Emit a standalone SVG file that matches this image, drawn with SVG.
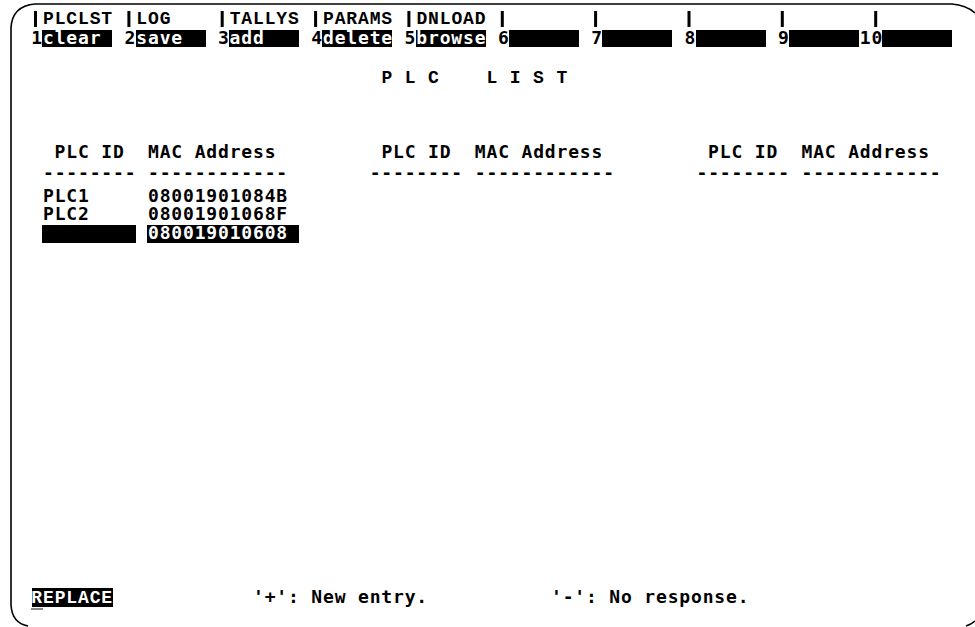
<svg xmlns="http://www.w3.org/2000/svg" width="975" height="627" viewBox="0 0 975 627">
<style>
.t{font-family:"DejaVu Sans Mono","Liberation Mono",monospace;font-weight:bold;font-size:18px;letter-spacing:0.83px;fill:#000}
.s{font-family:"Liberation Mono","DejaVu Sans Mono",monospace;font-weight:bold;font-size:18px;letter-spacing:0.87px;fill:#000}
.w{fill:#fff}
.frame{fill:none;stroke:#000;stroke-width:1.6}
.bar{fill:#000}
</style>
<rect width="975" height="627" fill="#fff"/>
<g id="frame">
<path class="frame" d="M11,605 L11,28 Q12,6 35,4 L952,4 Q966,5 975,13"/>
<path class="frame" d="M11,605 Q12,623 28,626"/>
<path class="frame" d="M966,626 Q972,624 975,621"/>
</g>
<g id="softkey-labels">
<rect class="bar" x="34" y="11" width="3" height="16"/><text class="s" x="43" y="24">PLCLST</text>
<rect class="bar" x="127.4" y="11" width="3" height="16"/><text class="s" x="136.3" y="24">LOG</text>
<rect class="bar" x="220.7" y="11" width="3" height="16"/><text class="s" x="229.7" y="24">TALLYS</text>
<rect class="bar" x="314.1" y="11" width="3" height="16"/><text class="s" x="323" y="24">PARAMS</text>
<rect class="bar" x="407.4" y="11" width="3" height="16"/><text class="s" x="416.4" y="24">DNLOAD</text>
<rect class="bar" x="500.8" y="11" width="3" height="16"/>
<rect class="bar" x="594.1" y="11" width="3" height="16"/>
<rect class="bar" x="687.5" y="11" width="3" height="16"/>
<rect class="bar" x="780.8" y="11" width="3" height="16"/>
<rect class="bar" x="874.2" y="11" width="3" height="16"/>
</g>
<g id="softkeys">
<rect x="42" y="30" width="70" height="17"/>
<rect x="136" y="30" width="70" height="17"/>
<rect x="229" y="30" width="70" height="17"/>
<rect x="322" y="30" width="70" height="17"/>
<rect x="416" y="30" width="70" height="17"/>
<rect x="509" y="30" width="70" height="17"/>
<rect x="602" y="30" width="70" height="17"/>
<rect x="696" y="30" width="70" height="17"/>
<rect x="789" y="30" width="70" height="17"/>
<rect x="882" y="30" width="70" height="17"/>
<text class="t" x="31.3" y="44">1</text>
<text class="t w" x="43" y="44">clear</text>
<text class="t" x="124.6" y="44">2</text>
<text class="t w" x="136.3" y="44">save</text>
<text class="t" x="218" y="44">3</text>
<text class="t w" x="229.6" y="44">add</text>
<text class="t" x="311.3" y="44">4</text>
<text class="t w" x="323" y="44">delete</text>
<text class="t" x="404.6" y="44">5</text>
<text class="t w" x="416.3" y="44">browse</text>
<text class="t" x="498" y="44">6</text>
<text class="t" x="591.3" y="44">7</text>
<text class="t" x="684.6" y="44">8</text>
<text class="t" x="778" y="44">9</text>
<text class="t" x="859.8" y="44">10</text>
</g>
<g id="title">
<text class="s" x="381.4" y="83">P</text>
<text class="s" x="404.7" y="83">L</text>
<text class="s" x="428" y="83">C</text>
<text class="s" x="486.5" y="83">L</text>
<text class="s" x="509.8" y="83">I</text>
<text class="s" x="533.1" y="83">S</text>
<text class="s" x="556.5" y="83">T</text>
</g>
<g id="table-left">
<text class="t" x="54.6" y="158">PLC ID</text>
<text class="t" x="148" y="158">MAC Address</text>
<text class="t" x="43" y="179">--------</text>
<text class="t" x="148" y="179">------------</text>
<text class="t" x="43" y="202">PLC1</text>
<text class="t" x="148" y="202">08001901084B</text>
<text class="t" x="43" y="220">PLC2</text>
<text class="t" x="148" y="220">08001901068F</text>
<rect x="42" y="225" width="94" height="18"/>
<rect x="147" y="225" width="152" height="18"/>
<text class="t w" x="148" y="239">080019010608</text>
</g>
<g id="table-middle">
<text class="t" x="381.4" y="158">PLC ID</text>
<text class="t" x="474.8" y="158">MAC Address</text>
<text class="t" x="369.7" y="179">--------</text>
<text class="t" x="474.8" y="179">------------</text>
</g>
<g id="table-right">
<text class="t" x="708.1" y="158">PLC ID</text>
<text class="t" x="801.5" y="158">MAC Address</text>
<text class="t" x="696.5" y="179">--------</text>
<text class="t" x="801.5" y="179">------------</text>
</g>
<g id="status">
<rect x="32" y="588" width="81" height="19"/>
<text class="s w" x="31.3" y="603">REPLACE</text>
<rect x="31" y="608" width="12" height="2" fill="#888"/>
<text class="t" x="253" y="603">'+':</text>
<text class="t" x="311.3" y="603">New entry.</text>
<text class="t" x="551" y="603">'-':</text>
<text class="t" x="609.3" y="603">No response.</text>
</g>
</svg>
